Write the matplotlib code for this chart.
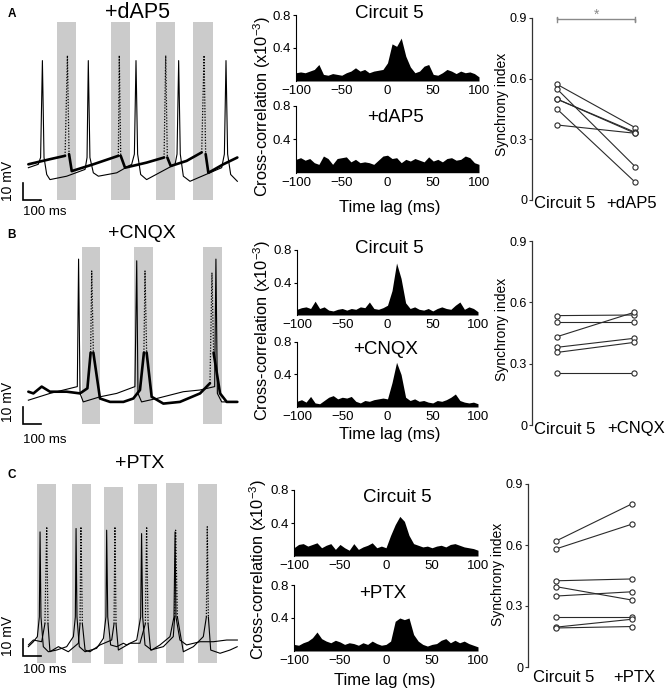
import numpy as np
import matplotlib
matplotlib.use('Agg')
import matplotlib.pyplot as plt

plt.rcParams['font.family'] = ['Liberation Sans', 'DejaVu Sans']
plt.rcParams['mathtext.default'] = 'regular'

# ---------------- DATA ----------------
# Voltage traces (time in ms, membrane potential in mV relative to scale-bar base)
a_thin_t = [2, 57, 70, 80, 89, 104, 122, 215, 317, 328, 335, 344, 363, 391, 493, 576, 591, 600, 609,
            626, 659, 817, 828, 837, 846, 863, 900, 1076, 1091, 1100, 1109, 1126, 1163]
a_thin_v = [19, 21, 25, 82, 25, 15, 12, 14, 18, 25, 82, 25, 16, 14, 16, 21, 27, 82, 27,
            15, 12, 21, 27, 82, 27, 14, 11, 19, 27, 82, 27, 15, 11]
a_thick_t = [2, 122, 206, 219, 228, 243, 363, 502, 507, 515, 539, 659, 756, 765, 774, 793, 881, 965,
             978, 987, 1002, 1085, 1163]
a_thick_v = [21, 24, 26, 85, 27, 17, 21, 26, 85, 26, 19, 22, 25, 85, 25, 20, 23, 28,
             85, 27, 16, 21, 25]
a_win_start = [159, 459, 711, 919]
a_win_end = [267, 567, 817, 1026]
a_win_top = [105, 105, 105, 105]
a_win_bot = [0, 0, 0, 0]

b_thin_t = [2, 122, 274, 281, 289, 307, 400, 493, 594, 604, 611, 631, 715, 863, 956, 1037, 1044,
            1052, 1076, 1163]
b_thin_v = [14, 18, 22, 97, 18, 13, 16, 18, 22, 96, 18, 13, 15, 19, 20, 22, 97, 18, 13, 13]
b_thick_t = [2, 30, 76, 122, 215, 289, 330, 348, 354, 363, 400, 456, 530, 585, 622, 644, 650, 659,
             687, 752, 844, 956, 1011, 1022, 1031, 1067, 1104, 1163]
b_thick_v = [19, 18, 22, 19, 19, 18, 21, 42, 90, 42, 15, 13, 13, 15, 20, 42, 90, 42,
             16, 12, 13, 18, 24, 89, 42, 18, 13, 13]
b_win_start = [298, 591, 974]
b_win_end = [400, 693, 1076]
b_win_top = [104, 104, 104]
b_win_bot = [0, 0, 0]

c_solid_t = [2, 30, 52, 63, 67, 72, 85, 113, 159, 215, 252, 263, 267, 272, 285, 317, 381, 419, 433,
             437, 443, 459, 493, 530, 548, 604, 626, 631, 637, 650, 687, 733, 789, 811, 817, 822,
             844, 881, 956, 1030, 1104, 1163]
c_solid_v = [5.5, 8.4, 11.4, 23, 73, 23, 5.5, 2.5, 3.5, 5.5, 11.4, 23, 75, 23, 5.5, 2.5, 4.5, 10.4,
             23, 74, 23, 6.5, 5.5, 7.5, 6.5, 9.4, 23, 72, 23, 6.5, 3.5, 6.5, 11.4, 23, 73, 23,
             9.4, 6.5, 8.4, 8.4, 9.4, 9.4]
c_dot_t = [2, 30, 76, 94, 104, 111, 122, 169, 224, 280, 289, 294, 302, 317, 344, 400, 465, 478, 483,
           489, 502, 567, 622, 652, 659, 667, 681, 752, 807, 815, 820, 830, 863, 919, 974, 991,
           996, 1002, 1015, 1067, 1122, 1163]
c_dot_v = [6.5, 9.4, 8.4, 19, 76, 19, 2.5, 5.5, 2.5, 7.5, 19, 76, 19, 3.5, 2.5, 6.5, 9.4, 19, 76,
           19, 3.5, 7.5, 7.5, 19, 76, 19, 3.5, 5.5, 11.4, 23, 74, 23, 2.5, 5.5, 11.4, 23,
           76, 23, 3.5, 1.6, 3.5, 5.5]
c_win_start = [48, 244, 420, 609, 765, 946]
c_win_end = [154, 350, 526, 715, 869, 1052]
c_win_top = [101, 101, 99.6, 101, 101.6, 101]
c_win_bot = [-3.9, -4.3, -4.9, -4.3, -3.9, -3.9]

# Cross-correlograms (x10^-3), lags -100..100 ms in 5 ms steps
lags = [-100, -95, -90, -85, -80, -75, -70, -65, -60, -55, -50, -45, -40, -35, -30, -25, -20, -15,
        -10, -5, 0, 5, 10, 15, 20, 25, 30, 35, 40, 45, 50, 55, 60, 65, 70, 75, 80, 85, 90, 95, 100]
a_cc_ctrl = [0.10, 0.11, 0.10, 0.12, 0.14, 0.20, 0.08, 0.07, 0.09, 0.08, 0.07, 0.10, 0.12, 0.16,
             0.12, 0.14, 0.10, 0.12, 0.13, 0.14, 0.22, 0.45, 0.42, 0.52, 0.30, 0.17, 0.10, 0.12,
             0.18, 0.20, 0.08, 0.07, 0.10, 0.14, 0.12, 0.09, 0.12, 0.10, 0.11, 0.09, 0.05]
a_cc_drug = [0.16, 0.18, 0.15, 0.17, 0.12, 0.10, 0.20, 0.17, 0.10, 0.17, 0.18, 0.19, 0.13, 0.16,
             0.12, 0.13, 0.12, 0.10, 0.15, 0.20, 0.21, 0.17, 0.18, 0.12, 0.16, 0.14, 0.17, 0.15,
             0.13, 0.19, 0.14, 0.16, 0.13, 0.17, 0.18, 0.15, 0.16, 0.20, 0.18, 0.12, 0.10]
b_cc_ctrl = [0.07, 0.09, 0.10, 0.08, 0.17, 0.08, 0.10, 0.06, 0.05, 0.07, 0.08, 0.06, 0.08, 0.07,
             0.10, 0.09, 0.16, 0.08, 0.07, 0.09, 0.12, 0.30, 0.64, 0.45, 0.15, 0.08, 0.10, 0.07,
             0.06, 0.08, 0.05, 0.08, 0.10, 0.08, 0.07, 0.12, 0.16, 0.07, 0.10, 0.08, 0.04]
b_cc_drug = [0.07, 0.09, 0.06, 0.13, 0.05, 0.04, 0.08, 0.12, 0.14, 0.10, 0.12, 0.11, 0.13, 0.07,
             0.05, 0.08, 0.07, 0.09, 0.10, 0.11, 0.10, 0.30, 0.55, 0.40, 0.12, 0.08, 0.10, 0.07,
             0.08, 0.06, 0.05, 0.08, 0.07, 0.09, 0.12, 0.16, 0.08, 0.06, 0.05, 0.06, 0.04]
c_cc_ctrl = [0.10, 0.14, 0.15, 0.12, 0.14, 0.16, 0.10, 0.13, 0.15, 0.08, 0.14, 0.10, 0.07, 0.15,
             0.08, 0.11, 0.13, 0.16, 0.10, 0.12, 0.10, 0.25, 0.38, 0.48, 0.42, 0.25, 0.15, 0.13,
             0.11, 0.12, 0.10, 0.12, 0.13, 0.11, 0.14, 0.15, 0.13, 0.11, 0.10, 0.09, 0.07]
c_cc_drug = [0.08, 0.07, 0.10, 0.12, 0.16, 0.23, 0.15, 0.12, 0.10, 0.13, 0.11, 0.08, 0.10, 0.09,
             0.07, 0.10, 0.08, 0.12, 0.09, 0.07, 0.08, 0.12, 0.36, 0.40, 0.38, 0.40, 0.20, 0.12,
             0.08, 0.06, 0.08, 0.09, 0.13, 0.15, 0.10, 0.13, 0.10, 0.12, 0.09, 0.07, 0.05]

# Synchrony index pairs
a_si_ctrl = [0.572, 0.549, 0.499, 0.499, 0.450, 0.371]
a_si_drug = [0.358, 0.165, 0.335, 0.330, 0.088, 0.330]
b_si_ctrl = [0.535, 0.502, 0.432, 0.380, 0.355, 0.253]
b_si_drug = [0.538, 0.502, 0.551, 0.424, 0.404, 0.253]
c_si_ctrl = [0.620, 0.581, 0.424, 0.395, 0.349, 0.244, 0.196, 0.192]
c_si_drug = [0.803, 0.703, 0.433, 0.329, 0.370, 0.244, 0.235, 0.199]

drugs = ['+dAP5', '+CNQX', '+PTX']
ctrl_name = 'Circuit 5'

# ---------------- LAYOUT HELPERS ----------------
W, H = 670, 691
fig = plt.figure(figsize=(6.7, 6.91), dpi=100)
SHADE = '#cbcbcb'


def rect(x0, y0, x1, y1):
    return [x0 / W, 1 - y1 / H, (x1 - x0) / W, (y1 - y0) / H]


def ft(x, y, s, **kw):
    fig.text(x / W, 1 - y / H, s, **kw)


MS_PX, MV_PX, T0_PX = 0.18, 1.7, 28


def trace_axes(y0, y1, ybot):
    ax = fig.add_axes(rect(0, y0, 245, y1))
    ax.set_xlim((0 - T0_PX) / MS_PX, (245 - T0_PX) / MS_PX)
    ax.set_ylim((ybot - y1) / MV_PX, (ybot - y0) / MV_PX)
    ax.axis('off')
    return ax


def windows(ax, s, e, top, bot):
    s, e, top, bot = map(np.asarray, (s, e, top, bot))
    ax.bar((s + e) / 2, top - bot, width=e - s, bottom=bot, color=SHADE, lw=0, zorder=0)


def draw_trace(ax, t, v, lw, dotted_spikes):
    t = np.asarray(t, float)
    v = np.asarray(v, float)
    if not dotted_spikes:
        ax.plot(t, v, color='k', lw=lw, solid_joinstyle='round', zorder=3)
        return
    peaks = np.where(v > 60)[0]
    base = np.ma.masked_where(v > 60, v)
    ax.plot(t, base, color='k', lw=lw, solid_joinstyle='round', solid_capstyle='round', zorder=3)
    for k in peaks:
        ax.plot(t[k - 1:k + 2], v[k - 1:k + 2], color='k', lw=0.9, ls=(0, (1, 1.3)), zorder=3)


def scalebar(ax, mv_text_v, ms_text_v):
    ax.plot([-30, -30, 70], [10, 0, 0], color='k', lw=1.2, solid_joinstyle='miter')
    ax.text(-110, mv_text_v, '10 mV', rotation=90, ha='center', va='center', fontsize=10)
    ax.text(-30, ms_text_v, '100 ms', ha='left', va='center', fontsize=9.5)


def xcorr_axes(x0, x1, y0, y1, vals):
    ax = fig.add_axes(rect(x0, y0, x1, y1))
    ax.fill_between(lags, vals, 0, color='k', lw=0)
    ax.set_xlim(-100, 100)
    ax.set_ylim(0, 0.8)
    ax.set_xticks([-100, -50, 0, 50, 100])
    ax.set_yticks([0.4, 0.8])
    ax.set_yticklabels(['0.4', '0.8'])
    for s in ['top', 'right', 'bottom']:
        ax.spines[s].set_visible(False)
    ax.spines['left'].set_linewidth(0.8)
    ax.tick_params(axis='x', length=0, pad=3, labelsize=9.5)
    ax.tick_params(axis='y', length=2, width=0.8, pad=1.5, labelsize=9.5)
    ax.patch.set_alpha(0)
    return ax


def sync_axes(x0, y0, y1, xl, xr, pre, post, drug, dx, dy):
    ax = fig.add_axes(rect(x0, y0, 668, y1))
    for a, b in zip(pre, post):
        ax.plot([0, 1], [a, b], color='#2a2a2a', lw=0.8, zorder=2)
    ax.scatter(np.zeros(len(pre)), pre, s=14, facecolor='white', edgecolor='#2a2a2a',
               lw=0.8, zorder=3, clip_on=False)
    ax.scatter(np.ones(len(post)), post, s=14, facecolor='white', edgecolor='#2a2a2a',
               lw=0.8, zorder=3, clip_on=False)
    ax.set_xlim(xl, xr)
    ax.set_ylim(0, 0.9)
    ax.set_yticks([0, 0.3, 0.6, 0.9])
    ax.set_yticklabels(['0', '0.3', '0.6', '0.9'])
    ax.set_xticks([])
    for s in ['top', 'right', 'bottom']:
        ax.spines[s].set_visible(False)
    ax.spines['left'].set_linewidth(0.9)
    ax.spines['left'].set_color('#333333')
    ax.tick_params(axis='y', length=2, width=0.8, pad=1.5, labelsize=9, color='#333333')
    for i, lab in enumerate([ctrl_name, drug]):
        ax.annotate(lab, xy=(i, 0), xycoords='data', xytext=(dx[i], -dy),
                    textcoords='offset pixels', ha='center', va='center', fontsize=12,
                    annotation_clip=False)
    ax.patch.set_alpha(0)
    return ax


# ---------------- PANEL A ----------------
ax = trace_axes(15, 225, 200)
windows(ax, a_win_start, a_win_end, a_win_top, a_win_bot)
draw_trace(ax, a_thin_t, a_thin_v, 0.8, False)
draw_trace(ax, a_thick_t, a_thick_v, 1.9, True)
scalebar(ax, 11, -7)
ft(138, 12, drugs[0], ha='center', va='center', fontsize=15.5)
ft(12, 14, 'A', ha='center', va='center', fontsize=8.5, fontweight='bold')

xcorr_axes(296, 479, 15, 81, a_cc_ctrl)
xcorr_axes(296, 479, 106, 172.7, a_cc_drug)
ft(389, 14, ctrl_name, ha='center', va='center', fontsize=13.5)
ft(396, 117, drugs[0], ha='center', va='center', fontsize=13.5)
ft(262, 106, 'Cross-correlation (x10$^{-3}$)', rotation=90, ha='center', va='center', fontsize=11.8)
ft(390, 207, 'Time lag (ms)', ha='center', va='center', fontsize=12)

axs = sync_axes(532, 18, 200, -0.32, 1.42, a_si_ctrl, a_si_drug, drugs[0], (8, -4), 4)
axs.plot([0, 0, 0, 1, 1, 1], [0.878, 0.906, 0.894, 0.894, 0.878, 0.906], color='#8a8a8a',
         lw=1.0, clip_on=False)
axs.text(0.5, 0.915, '*', ha='center', va='center', fontsize=10, color='#8a8a8a')
ft(502, 104, 'Synchrony index', rotation=90, ha='center', va='center', fontsize=10)

# ---------------- PANEL B ----------------
ax = trace_axes(228, 447, 424)
windows(ax, b_win_start, b_win_end, b_win_top, b_win_bot)
draw_trace(ax, b_thin_t, b_thin_v, 0.8, False)
draw_trace(ax, b_thick_t, b_thick_v, 1.9, True)
scalebar(ax, 13, -9.4)
ft(142, 234, drugs[1], ha='center', va='center', fontsize=14)
ft(12, 235, 'B', ha='center', va='center', fontsize=8.5, fontweight='bold')

xcorr_axes(297, 478, 250, 315, b_cc_ctrl)
xcorr_axes(297, 478, 342, 407, b_cc_drug)
ft(389, 249, ctrl_name, ha='center', va='center', fontsize=13.5)
ft(386, 349, drugs[1], ha='center', va='center', fontsize=13.5)
ft(262, 330, 'Cross-correlation (x10$^{-3}$)', rotation=90, ha='center', va='center', fontsize=11.8)
ft(390, 434, 'Time lag (ms)', ha='center', va='center', fontsize=12)

sync_axes(532, 241, 425, -0.325, 1.44, b_si_ctrl, b_si_drug, drugs[1], (8, 2), 4)
ft(502, 329, 'Synchrony index', rotation=90, ha='center', va='center', fontsize=10)

# ---------------- PANEL C ----------------
ax = trace_axes(455, 691, 656)
windows(ax, c_win_start, c_win_end, c_win_top, c_win_bot)
draw_trace(ax, c_solid_t, c_solid_v, 0.8, False)
draw_trace(ax, c_dot_t, c_dot_v, 0.8, True)
scalebar(ax, 12, -8.2)
ft(140, 463, drugs[2], ha='center', va='center', fontsize=14)
ft(12, 475, 'C', ha='center', va='center', fontsize=8.5, fontweight='bold')

xcorr_axes(294, 478, 490, 556, c_cc_ctrl)
xcorr_axes(294, 478, 585, 651, c_cc_drug)
ft(397, 498, ctrl_name, ha='center', va='center', fontsize=13.5)
ft(383, 594, drugs[2], ha='center', va='center', fontsize=13.5)
ft(258, 569, 'Cross-correlation (x10$^{-3}$)', rotation=90, ha='center', va='center', fontsize=11.8)
ft(385, 680, 'Time lag (ms)', ha='center', va='center', fontsize=12)

sync_axes(528, 484, 667, -0.37, 1.47, c_si_ctrl, c_si_drug, drugs[2], (8, 2), 11)
ft(498, 574, 'Synchrony index', rotation=90, ha='center', va='center', fontsize=10)

fig.savefig('out.png', dpi=100)
